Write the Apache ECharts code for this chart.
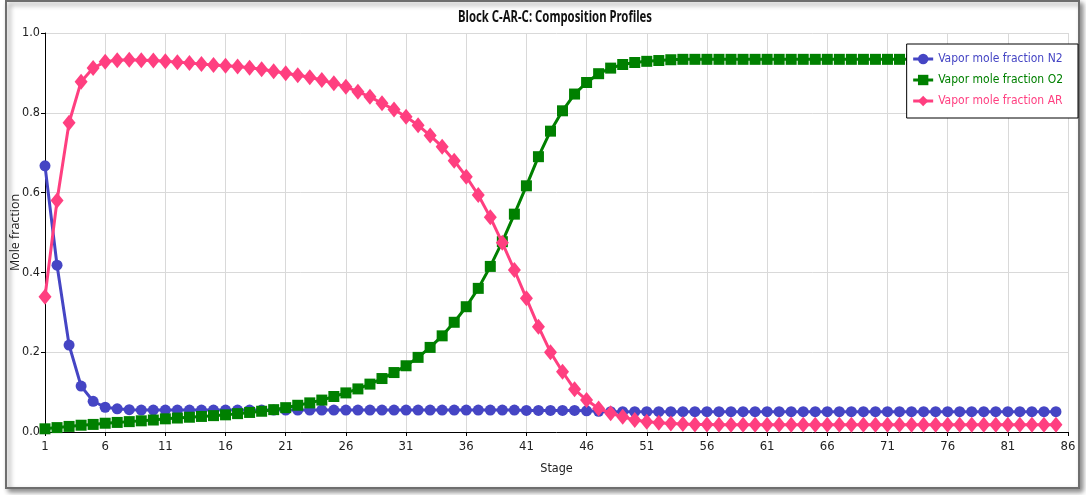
<!DOCTYPE html>
<html>
<head>
<meta charset="utf-8">
<title>Block C-AR-C: Composition Profiles</title>
<script src="https://cdn.jsdelivr.net/npm/echarts@6.0.0/dist/echarts.min.js"></script>
<style>
  html, body { margin: 0; padding: 0; background: #ffffff; }
  #chart { width: 1086px; height: 495px; }
</style>
</head>
<body>
<div id="chart"></div>
<script>
// Stage numbers shown on the horizontal axis (1 .. 86)
const stageLabels = [
  1, 2, 3, 4, 5, 6, 7, 8, 9, 10, 11, 12, 13, 14, 15, 16, 17, 18, 19, 20,
  21, 22, 23, 24, 25, 26, 27, 28, 29, 30, 31, 32, 33, 34, 35, 36, 37, 38, 39, 40,
  41, 42, 43, 44, 45, 46, 47, 48, 49, 50, 51, 52, 53, 54, 55, 56, 57, 58, 59, 60,
  61, 62, 63, 64, 65, 66, 67, 68, 69, 70, 71, 72, 73, 74, 75, 76, 77, 78, 79, 80,
  81, 82, 83, 84, 85, 86
];

// Vapor mole fraction N2, stages 1..85
const vaporN2 = [
  0.667, 0.418, 0.218, 0.115, 0.077, 0.062, 0.058, 0.056, 0.055, 0.055,
  0.055, 0.055, 0.055, 0.055, 0.055, 0.055, 0.055, 0.055, 0.055, 0.055,
  0.055, 0.055, 0.055, 0.055, 0.055, 0.055, 0.055, 0.055, 0.055, 0.055,
  0.055, 0.055, 0.055, 0.055, 0.055, 0.055, 0.055, 0.055, 0.055, 0.055,
  0.054, 0.054, 0.054, 0.054, 0.054, 0.053, 0.052, 0.051, 0.051, 0.051,
  0.051, 0.051, 0.051, 0.051, 0.051, 0.051, 0.051, 0.051, 0.051, 0.051,
  0.051, 0.051, 0.051, 0.051, 0.051, 0.051, 0.051, 0.051, 0.051, 0.051,
  0.051, 0.051, 0.051, 0.051, 0.051, 0.051, 0.051, 0.051, 0.051, 0.051,
  0.051, 0.051, 0.051, 0.051, 0.051
];

// Vapor mole fraction O2, stages 1..85
const vaporO2 = [
  0.008, 0.011, 0.014, 0.017, 0.019, 0.022, 0.024, 0.026, 0.028, 0.030,
  0.033, 0.035, 0.037, 0.039, 0.041, 0.043, 0.046, 0.049, 0.052, 0.056,
  0.061, 0.067, 0.073, 0.080, 0.089, 0.098, 0.108, 0.120, 0.134, 0.149,
  0.166, 0.187, 0.212, 0.241, 0.275, 0.314, 0.360, 0.415, 0.477, 0.546,
  0.617, 0.690, 0.754, 0.805, 0.847, 0.876, 0.898, 0.912, 0.921, 0.926,
  0.929, 0.931, 0.933, 0.934, 0.934, 0.934, 0.934, 0.934, 0.934, 0.934,
  0.934, 0.934, 0.934, 0.934, 0.934, 0.934, 0.934, 0.934, 0.934, 0.934,
  0.934, 0.934, 0.934, 0.934, 0.934, 0.934, 0.934, 0.934, 0.934, 0.934,
  0.934, 0.934, 0.934, 0.934, 0.934
];

// Vapor mole fraction AR, stages 1..85
const vaporAR = [
  0.339, 0.580, 0.775, 0.878, 0.912, 0.928, 0.932, 0.933, 0.932, 0.931,
  0.929, 0.927, 0.925, 0.922, 0.920, 0.918, 0.916, 0.913, 0.909, 0.904,
  0.899, 0.894, 0.889, 0.882, 0.874, 0.865, 0.853, 0.840, 0.824, 0.808,
  0.790, 0.769, 0.743, 0.715, 0.680, 0.640, 0.594, 0.538, 0.474, 0.406,
  0.335, 0.264, 0.200, 0.151, 0.107, 0.080, 0.059, 0.047, 0.038, 0.030,
  0.026, 0.023, 0.021, 0.020, 0.019, 0.019, 0.018, 0.018, 0.018, 0.018,
  0.018, 0.018, 0.018, 0.018, 0.018, 0.018, 0.018, 0.018, 0.018, 0.018,
  0.018, 0.018, 0.018, 0.018, 0.018, 0.018, 0.018, 0.018, 0.018, 0.018,
  0.018, 0.018, 0.018, 0.018, 0.018
];

const chartTitle = 'Block C-AR-C: Composition Profiles';
const seriesNames = ['Vapor mole fraction N2', 'Vapor mole fraction O2', 'Vapor mole fraction AR'];
const seriesColors = ['#4545c4', '#008000', '#ff3f80'];

// Narrow face for tick labels and legend entries
const textFont = '"DejaVu Sans Condensed", "DejaVu Sans", sans-serif';

// The title is a tall, tightly set bold face: draw it at 16px and squeeze it horizontally.
const titleFont = 'bold 16px "Noto Sans", "DejaVu Sans Condensed", sans-serif';
const titleTargetWidth = 194;
const measureCtx = document.createElement('canvas').getContext('2d');
measureCtx.font = titleFont;
const titleScaleX = Math.min(1, titleTargetWidth / measureCtx.measureText(chartTitle).width);

const chart = echarts.init(document.getElementById('chart'), null, { renderer: 'canvas' });

function lineSeries(idx, values, symbol, size) {
  return {
    name: seriesNames[idx],
    type: 'line',
    data: values,
    symbol: symbol,
    symbolSize: size,
    showAllSymbol: true,
    lineStyle: { color: seriesColors[idx], width: 3 },
    itemStyle: { color: seriesColors[idx] },
    emphasis: { disabled: true },
    animation: false,
    z: 3 + idx
  };
}

chart.setOption({
  backgroundColor: '#ffffff',
  animation: false,
  graphic: [
    {
      // outer frame with a soft drop shadow
      type: 'rect',
      z: -10,
      silent: true,
      shape: { x: 6, y: 1, width: 1073, height: 487 },
      style: {
        fill: '#ffffff',
        stroke: '#6e6e6e',
        lineWidth: 2,
        shadowBlur: 5,
        shadowOffsetX: 3,
        shadowOffsetY: 3,
        shadowColor: 'rgba(0,0,0,0.45)'
      }
    },
    {
      // chart title, centred over the plot
      type: 'text',
      silent: true,
      x: 555,
      y: 17,
      scaleX: titleScaleX,
      z: 10,
      style: {
        text: chartTitle,
        font: titleFont,
        fill: '#111111',
        align: 'center',
        verticalAlign: 'middle'
      }
    }
  ],
  legend: {
    orient: 'vertical',
    right: 8,
    top: 44,
    backgroundColor: '#ffffff',
    borderColor: '#000000',
    borderWidth: 1,
    borderRadius: 0,
    padding: [9, 15, 11, 5],
    itemWidth: 20,
    itemHeight: 13,
    itemGap: 9,
    z: 20,
    lineStyle: { width: 3 },
    data: seriesNames.map((n, i) => ({ name: n, textStyle: { color: seriesColors[i] } })),
    textStyle: { fontFamily: textFont, fontSize: 12 }
  },
  grid: { left: 45, right: 18, top: 33, bottom: 63, containLabel: false },
  xAxis: {
    type: 'category',
    data: stageLabels,
    boundaryGap: false,
    name: 'Stage',
    nameLocation: 'middle',
    nameGap: 30,
    nameMoveOverlap: false,
    nameTextStyle: { fontFamily: textFont, fontSize: 12.5, color: '#222222' },
    axisLine: { lineStyle: { color: '#000000', width: 1 } },
    axisTick: { show: true, interval: 4, length: 4, lineStyle: { color: '#000000' } },
    axisLabel: { interval: 4, margin: 8, fontFamily: textFont, fontSize: 13, color: '#222222' },
    splitLine: { show: true, interval: 4, lineStyle: { color: '#d9d9d9', width: 1 } }
  },
  yAxis: {
    type: 'value',
    min: 0,
    max: 1,
    interval: 0.2,
    name: 'Mole fraction',
    nameLocation: 'middle',
    nameGap: 23,
    nameMoveOverlap: false,
    nameRotate: 90,
    nameTextStyle: { fontFamily: "'Open Sans', 'Noto Sans', sans-serif", fontSize: 12.5, color: '#222222' },
    axisLine: { show: true, lineStyle: { color: '#000000', width: 1 } },
    axisTick: { show: true, length: 4, lineStyle: { color: '#000000' } },
    axisLabel: {
      margin: 5,
      fontFamily: textFont,
      fontSize: 12.5,
      color: '#222222',
      formatter: v => v.toFixed(1)
    },
    splitLine: { show: true, lineStyle: { color: '#d9d9d9', width: 1 } }
  },
  series: [
    lineSeries(0, vaporN2, 'circle', 11),
    lineSeries(1, vaporO2, 'rect', 11),
    lineSeries(2, vaporAR, 'diamond', [13, 16])
  ]
});
</script>
</body>
</html>
